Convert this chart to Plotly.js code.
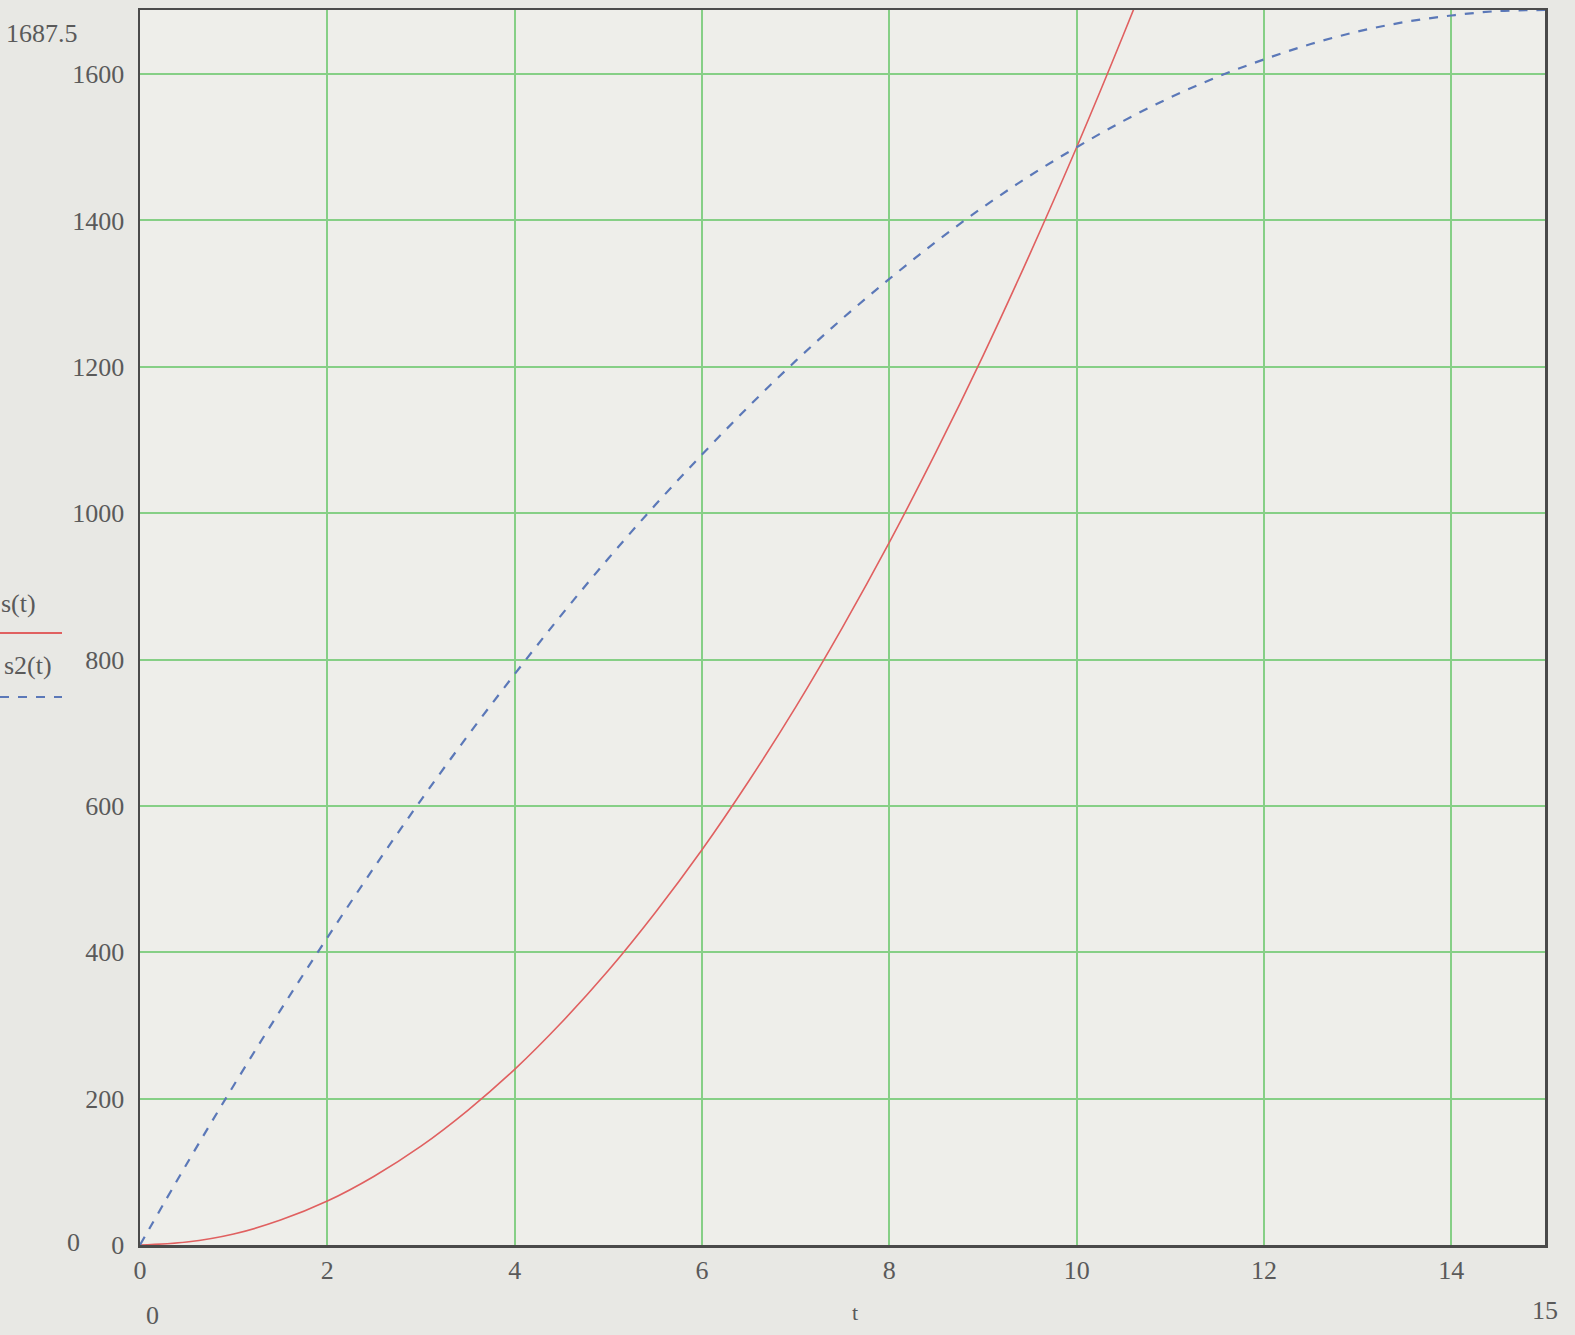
<!DOCTYPE html>
<html>
<head>
<meta charset="utf-8">
<script src="https://cdn.plot.ly/plotly-3.0.1.min.js"></script>
<style>
  html, body { margin: 0; padding: 0; background: #e8e8e4; }
  #chart { width: 1575px; height: 1335px; }
</style>
</head>
<body>
<div id="chart"></div>
<script>
// time values (t)
const tValues = [0, 0.5, 1, 1.5, 2, 2.5, 3, 3.5, 4, 4.5, 5, 5.5, 6, 6.5, 7, 7.5,
                 8, 8.5, 9, 9.5, 10, 10.5, 11, 11.5, 12, 12.5, 13, 13.5, 14, 14.5, 15];
// s(t) – red solid curve (leaves the plot near t ≈ 10.6)
const sValues = [0, 4, 15, 34, 60, 94, 135, 184, 240, 304, 375, 454, 540, 634, 735, 844,
                 960, 1084, 1215, 1354, 1500, 1654, 1815];
// s2(t) – blue dashed curve
const s2Values = [0, 111, 218, 321, 420, 516, 608, 696, 780, 861, 938, 1011, 1080, 1146, 1208, 1266,
                  1320, 1371, 1418, 1461, 1500, 1536, 1568, 1596, 1620, 1641, 1658, 1671, 1680, 1686, 1687.5];
const xTicks = [0, 2, 4, 6, 8, 10, 12, 14];
const yTicks = [0, 200, 400, 600, 800, 1000, 1200, 1400, 1600];
const xRange = [0, 15];
const yRange = [0, 1687.5];

const textColor = '#5a5a5a';
const serif = 'Liberation Serif, Times New Roman, serif';

const L = 140, R = 30, T = 10, B = 90, W = 1575, H = 1335;
const pw = W - L - R, ph = H - T - B;
const px2x = p => (p - L) / pw;
const py2y = p => (H - B - p) / ph;

const traces = [
  {
    x: tValues.slice(0, sValues.length), y: sValues, type: 'scatter', mode: 'lines',
    name: 's(t)', line: { color: '#e06060', width: 1.6, shape: 'spline' }
  },
  {
    x: tValues, y: s2Values, type: 'scatter', mode: 'lines',
    name: 's2(t)', line: { color: '#5b78b8', width: 2.2, dash: 'dash', shape: 'spline' }
  }
];

const annText = (text, x, y, xanchor, size) => ({
  text: text, xref: 'paper', yref: 'paper', x: px2x(x), y: py2y(y),
  xanchor: xanchor, yanchor: 'middle', showarrow: false,
  font: { family: serif, size: size || 26, color: textColor }
});

const layout = {
  width: W, height: H,
  margin: { l: L, r: R, t: T, b: B },
  paper_bgcolor: '#e8e8e4',
  plot_bgcolor: '#eeeeea',
  showlegend: false,
  font: { family: serif, color: textColor, size: 26 },
  xaxis: {
    range: xRange, tickvals: xTicks, ticktext: xTicks.map(String),
    showgrid: true, gridcolor: '#86cf86', gridwidth: 2,
    zeroline: false, showline: true, linecolor: '#4a4a4a', linewidth: 2.5, mirror: true,
    ticks: '', tickfont: { family: serif, size: 26, color: textColor },
    title: { text: '' }
  },
  yaxis: {
    range: yRange, tickvals: yTicks, ticktext: yTicks.map(String),
    showgrid: true, gridcolor: '#86cf86', gridwidth: 2,
    zeroline: false, showline: true, linecolor: '#4a4a4a', linewidth: 2.5, mirror: true,
    ticks: '', ticklabelstandoff: 8, tickfont: { family: serif, size: 26, color: textColor },
    title: { text: '' }
  },
  annotations: [
    annText('1687.5', 4, 33, 'left'),
    annText('0', 82, 1242, 'right'),
    annText('0', 152, 1315, 'center'),
    annText('t', 855, 1312, 'center', 22),
    annText('15', 1560, 1310, 'right'),
    annText('s(t)', 38, 603, 'right'),
    annText('s2(t)', 54, 665, 'right')
  ],
  shapes: [
    { type: 'line', xref: 'paper', yref: 'paper', x0: px2x(0), x1: px2x(62), y0: py2y(633), y1: py2y(633),
      line: { color: '#e06060', width: 2 } },
    { type: 'line', xref: 'paper', yref: 'paper', x0: px2x(0), x1: px2x(62), y0: py2y(697), y1: py2y(697),
      line: { color: '#5b78b8', width: 2, dash: 'dash' } }
  ]
};

Plotly.newPlot('chart', traces, layout, { displayModeBar: false, staticPlot: true });
</script>
</body>
</html>
